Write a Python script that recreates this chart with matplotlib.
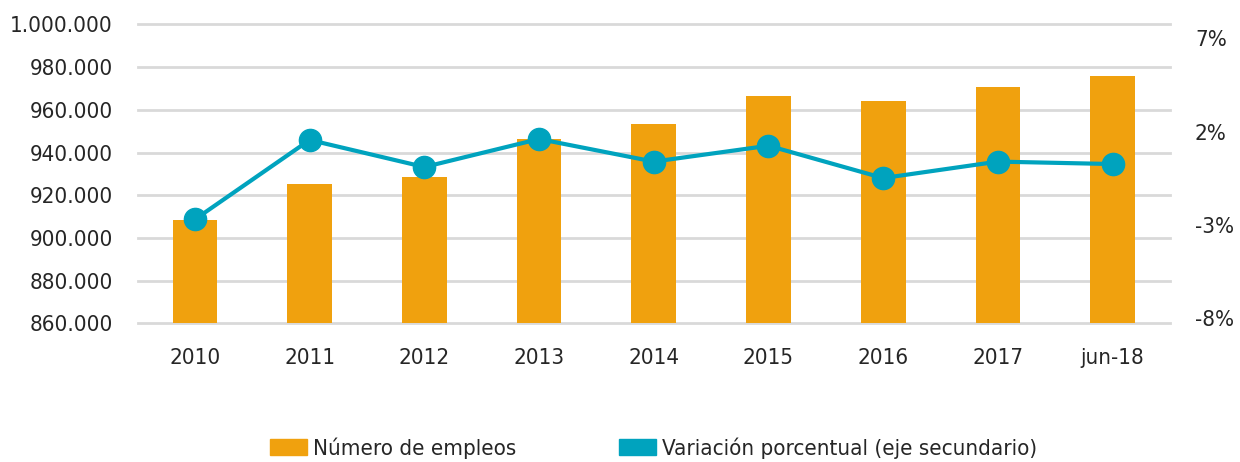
import matplotlib
matplotlib.use("Agg")
import matplotlib.pyplot as plt
from matplotlib.patches import Patch
from matplotlib.transforms import ScaledTranslation
import numpy as np

# datos
periodos = ["2010", "2011", "2012", "2013", "2014", "2015", "2016", "2017", "jun-18"]
empleos = [908400, 925250, 928500, 946300, 953350, 966500, 964100, 970700, 975850]
variacion = [-2.43, 1.82, 0.37, 1.87, 0.66, 1.51, -0.22, 0.66, 0.53]

ticks_izq = [860000, 880000, 900000, 920000, 940000, 960000, 980000, 1000000]
ticks_der = [-8, -3, 2, 7]

NARANJA = "#F0A10E"
TURQUESA = "#00A3BE"
GRIS = "#D9D9D9"
TEXTO = "#262626"

plt.rcParams["font.family"] = ["DejaVu Sans"]
plt.rcParams["font.stretch"] = "condensed"

fig = plt.figure(figsize=(12.4, 4.62), dpi=100)
ax = fig.add_axes([0.111, 0.300, 0.8325, 0.647])
x = np.arange(len(periodos))

# barras - eje principal
ax.bar(x, empleos, width=0.39, color=NARANJA, zorder=2)
ax.set_ylim(860000, 1000000)
ax.set_xlim(-0.5, len(periodos) - 0.5)
ax.set_yticks(ticks_izq)
ax.set_yticklabels([f"{v:,}".replace(",", ".") for v in ticks_izq])
ax.yaxis.grid(True, color=GRIS, linewidth=2, zorder=0)
ax.set_axisbelow(True)
for g in ax.get_ygridlines():
    g.set_clip_on(False)  # que no se corte la linea de abajo ni la de arriba
ax.set_xticks(x)
ax.set_xticklabels(periodos)
for s in ax.spines.values():
    s.set_visible(False)
ax.tick_params(axis="both", length=0, labelsize=16, colors=TEXTO)
ax.tick_params(axis="x", pad=18)
ax.tick_params(axis="y", pad=18)

# linea - eje secundario
ax2 = ax.twinx()
ax2.plot(x, variacion, color=TURQUESA, linewidth=3, marker="o", markersize=16, zorder=3)
ax2.set_ylim(-8, 8)
ax2.set_yticks(ticks_der)
ax2.set_yticklabels([f"{v}%" for v in ticks_der])
for s in ax2.spines.values():
    s.set_visible(False)
ax2.tick_params(axis="y", length=0, labelsize=16, colors=TEXTO, pad=18)
# las etiquetas de la derecha van un poco mas arriba que la linea
desplaza = ScaledTranslation(0, 5 / 100, fig.dpi_scale_trans)
for t in ax2.get_yticklabels():
    t.set_transform(t.get_transform() + desplaza)

# leyenda
handles = [Patch(color=NARANJA, label="Número de empleos"),
           Patch(color=TURQUESA, label="Variación porcentual (eje secundario)")]
fig.legend(handles=handles, loc="center", bbox_to_anchor=(0.527, 0.03), ncol=2,
           frameon=False, fontsize=16, handlelength=1.67, handleheight=0.68,
           handletextpad=0.27, columnspacing=4.6, labelcolor=TEXTO)

fig.savefig("out.png", dpi=100)
